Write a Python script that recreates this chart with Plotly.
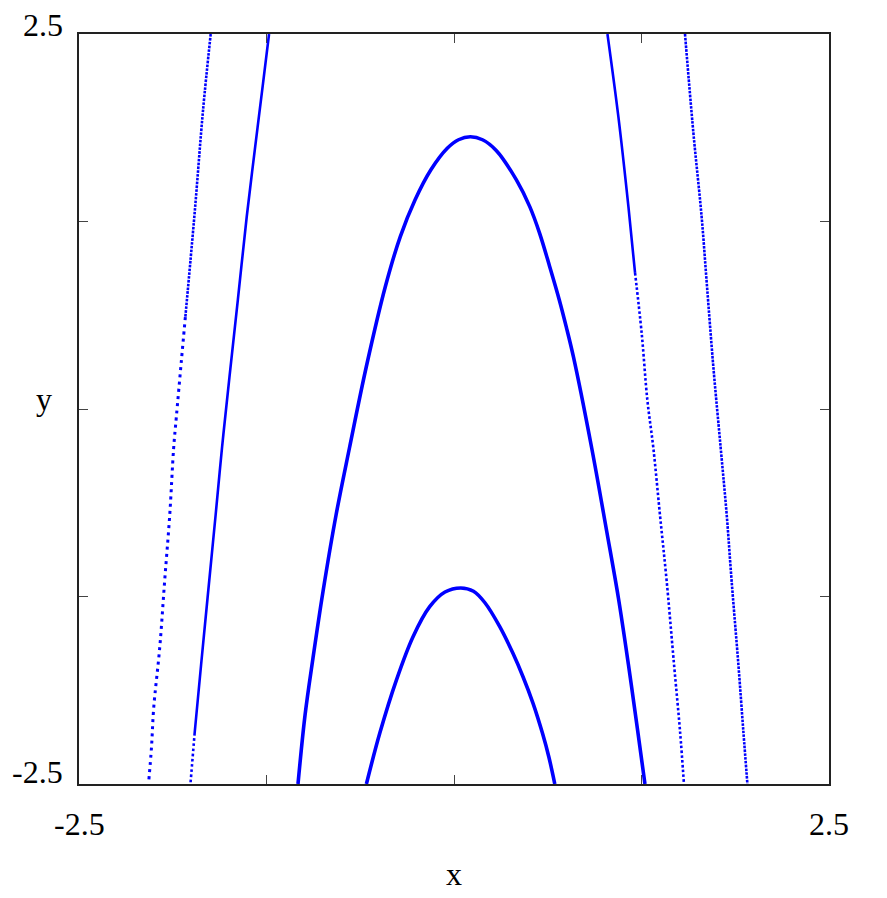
import plotly.graph_objects as go

# Curve A: large central arch
a_x = [-1.04, -0.993, -0.94, -0.873, -0.786, -0.697, -0.585, -0.458, -0.358, -0.26, -0.155, -0.045,
       0.03, 0.109, 0.19, 0.283, 0.416, 0.505, 0.571, 0.638, 0.702, 0.748, 0.796, 0.918, 1.018,
       1.096, 1.163, 1.225, 1.273]
a_y = [-2.5, -2.04, -1.66, -1.215, -0.705, -0.26, 0.28, 0.815, 1.149, 1.393, 1.593, 1.738,
       1.795, 1.815, 1.795, 1.722, 1.527, 1.349, 1.171, 0.949, 0.727, 0.549, 0.349, -0.26, -0.815,
       -1.26, -1.705, -2.149, -2.5]

# Curve B: small lower arch
b_x = [-0.584, -0.495, -0.384, -0.273, -0.162, -0.06, 0.045, 0.13, 0.205, 0.305, 0.393, 0.46,
       0.527, 0.59, 0.632, 0.672]
b_y = [-2.5, -2.162, -1.807, -1.518, -1.318, -1.22, -1.193, -1.215, -1.29, -1.451, -1.629, -1.785,
       -1.962, -2.162, -2.318, -2.5]

# Curve C: left inner branch
c_x = [-1.233, -1.273, -1.328, -1.382, -1.441, -1.497, -1.546, -1.589, -1.643, -1.686, -1.729, -1.757]
c_y = [2.5, 2.173, 1.727, 1.28, 0.727, 0.213, -0.253, -0.705, -1.26, -1.705, -2.16, -2.5]

# Curve D: left outer branch
d_x = [-1.622, -1.673, -1.729, -1.791, -1.817, -1.851, -1.869, -1.895, -1.929, -1.962, -2.002, -2.017, -2.035]
d_y = [2.5, 1.993, 1.307, 0.613, 0.327, -0.053, -0.26, -0.705, -1.147, -1.593, -1.993, -2.26, -2.48]

# Curve E: right inner branch
e_x = [1.023, 1.096, 1.163, 1.207, 1.251, 1.289, 1.329, 1.373, 1.418, 1.467, 1.507, 1.533]
e_y = [2.5, 1.947, 1.347, 0.907, 0.507, 0.06, -0.26, -0.705, -1.149, -1.705, -2.149, -2.5]

# Curve F: right outer branch
f_x = [1.54, 1.596, 1.651, 1.685, 1.729, 1.778, 1.818, 1.851, 1.896, 1.929, 1.956]
f_y = [2.5, 1.84, 1.28, 0.84, 0.28, -0.26, -0.705, -1.149, -1.705, -2.149, -2.5]

tick_vals = [-2.5, -1.25, 0, 1.25, 2.5]
end_labels = ["-2.5", "2.5"]

BLUE = "#0000ff"
FONT = "Liberation Serif, Times New Roman, serif"

fig = go.Figure()

def add(x, y, width, dash="solid"):
    fig.add_trace(go.Scatter(x=x, y=y, mode="lines",
                             line=dict(color=BLUE, width=width, dash=dash, shape="spline", smoothing=1.0),
                             hoverinfo="skip", showlegend=False))

add(a_x, a_y, 3.6)
add(b_x, b_y, 3.6)
# C: solid, dotted at bottom end
add(c_x[:11], c_y[:11], 2.6)
add(c_x[10:], c_y[10:], 2.6, "2.6px,2.6px")
# D: denser dots on top, sparser below
add(d_x[:4], d_y[:4], 2.6, "2.6px,1.2px")
add(d_x[3:], d_y[3:], 3, "3px,4.2px")
# E: solid on top, dotted below
add(e_x[:4], e_y[:4], 2.6)
add(e_x[3:], e_y[3:], 2.6, "2.6px,2.2px")
# F: dotted
add(f_x, f_y, 2.6, "2.6px,1.2px")

axis_common = dict(range=[-2.5, 2.5], tickvals=tick_vals, ticks="inside", ticklen=9,
                   tickcolor="#444", tickwidth=1, showticklabels=False, showgrid=False,
                   zeroline=False, showline=True, linecolor="#222", linewidth=2,
                   mirror="ticks")
fig.update_xaxes(**axis_common)
fig.update_yaxes(**axis_common)

annotations = []
for v, t in zip([-2.5, 2.5], end_labels):
    annotations.append(dict(x=v, y=0, xref="x", yref="paper", text=t, showarrow=False,
                            xanchor="center", yanchor="middle", yshift=-40,
                            font=dict(family=FONT, size=32, color="black")))
    annotations.append(dict(x=0, y=v, xref="paper", yref="y", text=t, showarrow=False,
                            xanchor="right", yanchor="middle", xshift=-14,
                            yshift=9 if v > 0 else 12,
                            font=dict(family=FONT, size=32, color="black")))
annotations.append(dict(x=0.5, y=0, xref="paper", yref="paper", text="x", showarrow=False,
                        xanchor="center", yanchor="middle", yshift=-90,
                        font=dict(family=FONT, size=32, color="black")))
annotations.append(dict(x=0, y=0.5, xref="paper", yref="paper", text="y", showarrow=False,
                        xanchor="center", yanchor="middle", xshift=-35, yshift=10,
                        font=dict(family=FONT, size=32, color="black")))

fig.update_layout(width=879, height=890, margin=dict(l=71, r=58, t=26, b=114),
                  paper_bgcolor="white", plot_bgcolor="white",
                  annotations=annotations, showlegend=False)

fig.write_html("out.html")
